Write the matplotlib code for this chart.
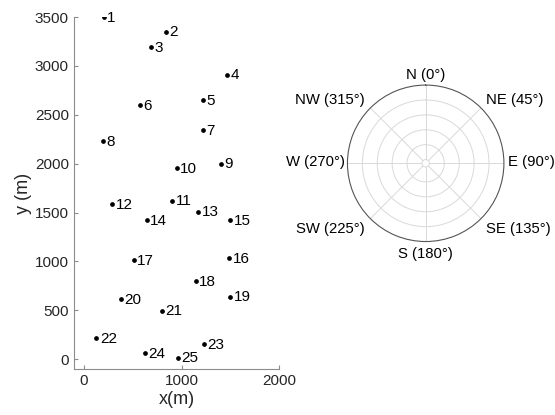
import numpy as np
import matplotlib
matplotlib.use('Agg')
import matplotlib.pyplot as plt

plt.rcParams['font.family'] = ['Liberation Sans', 'DejaVu Sans']

# Station positions (m)
station_ids = list(range(1, 26))
x_pos = [200, 840, 690, 1470, 1220, 570, 1220, 195, 1400, 950,
         905, 290, 1170, 640, 1500, 1490, 510, 1145, 1495, 375,
         800, 125, 1230, 620, 965]
y_pos = [3500, 3350, 3190, 2910, 2650, 2600, 2345, 2230, 2000, 1955,
         1620, 1585, 1510, 1425, 1425, 1030, 1010, 800, 640, 615,
         495, 215, 150, 60, 15]

x_ticks = [0, 1000, 2000]
y_ticks = [0, 500, 1000, 1500, 2000, 2500, 3000, 3500]

# Compass directions
dir_angles = [0, 45, 90, 135, 180, 225, 270, 315]
dir_labels = ['N (0°)', 'NE (45°)', 'E (90°)', 'SE (135°)',
              'S (180°)', 'SW (225°)', 'W (270°)', 'NW (315°)']
ring_values = [0.2, 0.4, 0.6, 0.8]

txt = '#262626'
axc = '#8c8c8c'

fig = plt.figure(figsize=(5.55, 4.15), dpi=100)

# station map
ax = fig.add_axes([0.134, 0.111, 0.369, 0.848])
ax.plot(x_pos, y_pos, 'o', color='black', ms=2.4, ls='none')
for i, xx, yy in zip(station_ids, x_pos, y_pos):
    ax.annotate(str(i), (xx, yy), xytext=(2.5, -0.5), textcoords='offset points',
                va='center', ha='left', fontsize=11, color='black')
ax.set_xlim(-100, 2000)
ax.set_ylim(-100, 3500)
ax.set_xticks(x_ticks)
ax.set_yticks(y_ticks)
ax.spines['top'].set_visible(False)
ax.spines['right'].set_visible(False)
for s in ['left', 'bottom']:
    ax.spines[s].set_color(axc)
    ax.spines[s].set_linewidth(0.8)
ax.tick_params(direction='in', length=3, width=0.8, color=axc,
               labelsize=11, labelcolor=txt, pad=4)
ax.set_xlabel('x(m)', fontsize=13, color=txt, labelpad=2)
ax.set_ylabel('y (m)', fontsize=13, color=txt, labelpad=2)

# compass rose
pax = fig.add_axes([0.626, 0.418, 0.282, 0.377], projection='polar')
pax.set_theta_zero_location('N')
pax.set_theta_direction(-1)
pax.set_rlim(0, 1)
pax.set_rorigin(-0.05)
pax.set_thetagrids(dir_angles, [''] * len(dir_angles))
pax.set_rgrids(ring_values, labels=[])
pax.grid(color='#d9d9d9', lw=0.7)
pax.spines['polar'].set_color('#555555')
pax.spines['polar'].set_linewidth(0.8)
pax.spines['inner'].set_color('#d9d9d9')
pax.spines['inner'].set_linewidth(0.7)

for ang, lab in zip(dir_angles, dir_labels):
    rad = np.deg2rad(ang)
    s, c = np.sin(rad), np.cos(rad)
    if abs(s) < 1e-6:
        ha, r = 'center', 1.1
    elif s > 0:
        ha, r = 'left', 1.1
    else:
        ha, r = 'right', 1.1
    if ang == 90:
        r = 1.06
    if ang == 270:
        r = 1.03
    if c > 1e-6:
        dy = 1.8
    elif c < -1e-6:
        dy = -3.6
    else:
        dy = 1.0
    pax.annotate(lab, (rad, r), xytext=(0, dy), textcoords='offset points',
                 ha=ha, va='center', fontsize=10.7, color='black',
                 annotation_clip=False)

fig.savefig('out.png', dpi=100)
